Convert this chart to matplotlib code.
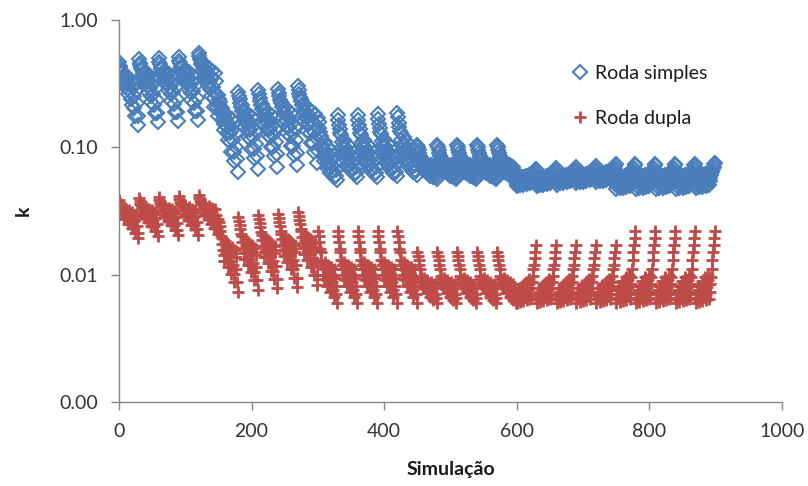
import numpy as np
import matplotlib.pyplot as plt
from matplotlib.ticker import FormatStrFormatter, NullLocator

plt.rcParams['font.family'] = ['Lato', 'DejaVu Sans']

# 900 simulations = 6 blocks of 150, each block = 5 repeats of a 30-run pattern
# each 30-run pattern read off the chart as six short sweeps of 5 runs
simples_b1 = [0.50, 0.47, 0.45, 0.43, 0.41,
              0.42, 0.39, 0.36, 0.34, 0.32,
              0.40, 0.37, 0.34, 0.31, 0.28,
              0.38, 0.34, 0.30, 0.26, 0.23,
              0.36, 0.32, 0.27, 0.22, 0.19,
              0.35, 0.30, 0.24, 0.19, 0.16]
simples_b2 = [0.28, 0.26, 0.245, 0.23, 0.215,
              0.22, 0.20, 0.18, 0.165, 0.15,
              0.20, 0.18, 0.16, 0.14, 0.125,
              0.19, 0.165, 0.14, 0.12, 0.10,
              0.18, 0.15, 0.125, 0.10, 0.085,
              0.17, 0.14, 0.11, 0.088, 0.07]
simples_b3 = [0.18, 0.165, 0.15, 0.14, 0.13,
              0.125, 0.11, 0.10, 0.09, 0.082,
              0.115, 0.10, 0.09, 0.08, 0.072,
              0.105, 0.092, 0.082, 0.073, 0.066,
              0.098, 0.086, 0.076, 0.068, 0.062,
              0.09, 0.08, 0.07, 0.063, 0.058]
simples_b4 = [0.105, 0.10, 0.095, 0.09, 0.085,
              0.082, 0.078, 0.074, 0.07, 0.066,
              0.078, 0.074, 0.07, 0.066, 0.063,
              0.074, 0.07, 0.066, 0.063, 0.06,
              0.072, 0.068, 0.064, 0.061, 0.058,
              0.07, 0.066, 0.062, 0.059, 0.056]
simples_b5 = [0.051, 0.053, 0.055, 0.057, 0.059,
              0.052, 0.054, 0.056, 0.058, 0.06,
              0.052, 0.054, 0.056, 0.058, 0.061,
              0.053, 0.055, 0.057, 0.059, 0.062,
              0.054, 0.056, 0.058, 0.06, 0.063,
              0.062, 0.064, 0.066, 0.068, 0.07]
simples_b6 = [0.047, 0.05, 0.053, 0.056, 0.058,
              0.048, 0.051, 0.054, 0.057, 0.06,
              0.048, 0.051, 0.054, 0.057, 0.061,
              0.049, 0.052, 0.055, 0.058, 0.062,
              0.05, 0.053, 0.056, 0.059, 0.063,
              0.064, 0.066, 0.069, 0.072, 0.074]

dupla_b1 = [0.040, 0.038, 0.036, 0.035, 0.034,
            0.035, 0.033, 0.031, 0.029, 0.028,
            0.034, 0.032, 0.030, 0.028, 0.026,
            0.033, 0.031, 0.028, 0.026, 0.024,
            0.032, 0.030, 0.027, 0.024, 0.022,
            0.031, 0.028, 0.025, 0.022, 0.020]
dupla_b2 = [0.030, 0.028, 0.026, 0.024, 0.022,
            0.021, 0.019, 0.017, 0.0155, 0.014,
            0.020, 0.018, 0.016, 0.014, 0.0125,
            0.019, 0.017, 0.015, 0.0125, 0.011,
            0.018, 0.016, 0.013, 0.011, 0.0095,
            0.017, 0.015, 0.012, 0.0095, 0.008]
dupla_b3 = [0.022, 0.020, 0.018, 0.016, 0.015,
            0.013, 0.012, 0.011, 0.010, 0.0092,
            0.0125, 0.0112, 0.010, 0.009, 0.0082,
            0.012, 0.0105, 0.0093, 0.0082, 0.0073,
            0.0115, 0.010, 0.0087, 0.0076, 0.0067,
            0.011, 0.0095, 0.0082, 0.007, 0.006]
dupla_b4 = [0.015, 0.014, 0.013, 0.012, 0.011,
            0.0098, 0.0093, 0.0088, 0.0083, 0.0078,
            0.0094, 0.0088, 0.0082, 0.0077, 0.0072,
            0.009, 0.0084, 0.0078, 0.0072, 0.0067,
            0.0087, 0.008, 0.0074, 0.0068, 0.0063,
            0.0085, 0.0078, 0.0071, 0.0065, 0.006]
dupla_b5 = [0.006, 0.0064, 0.0068, 0.0073, 0.0078,
            0.0061, 0.0066, 0.0071, 0.0077, 0.0083,
            0.0062, 0.0067, 0.0073, 0.008, 0.0088,
            0.0063, 0.0069, 0.0076, 0.0084, 0.0093,
            0.0064, 0.0071, 0.0079, 0.0088, 0.0098,
            0.011, 0.012, 0.0135, 0.015, 0.017]
dupla_b6 = [0.006, 0.0065, 0.007, 0.0076, 0.0082,
            0.0061, 0.0067, 0.0074, 0.0081, 0.0089,
            0.0062, 0.0069, 0.0077, 0.0086, 0.0096,
            0.0063, 0.0071, 0.008, 0.009, 0.010,
            0.0064, 0.0073, 0.0084, 0.0096, 0.011,
            0.013, 0.015, 0.017, 0.0195, 0.022]

# level of each of the 5 repeats inside a block
simples_drift = [[0.93, 0.98, 1.0, 1.02, 1.1], [0.92, 0.97, 1.0, 1.03, 1.08], [0.95, 1.0, 1.0, 1.02, 1.04],
                 [1.0, 1.0, 1.0, 1.0, 1.0], [0.97, 0.98, 1.0, 1.02, 1.05], [1.0, 1.0, 1.0, 1.0, 1.02]]
dupla_drift = [[0.97, 1.0, 1.02, 1.03, 1.05], [0.92, 0.95, 0.98, 1.0, 1.04], [1.0, 1.0, 1.0, 1.0, 1.0],
               [1.0, 1.0, 1.0, 1.0, 1.0], [1.0, 1.0, 1.0, 1.0, 1.0], [1.0, 1.0, 1.0, 1.0, 1.0]]


def build(blocks, drift):
    vals = []
    for prof, dr in zip(blocks, drift):
        for f in dr:
            vals.extend(np.array(prof) * f)
    return np.array(vals)


k_simples = build([simples_b1, simples_b2, simples_b3, simples_b4, simples_b5, simples_b6], simples_drift)
k_dupla = build([dupla_b1, dupla_b2, dupla_b3, dupla_b4, dupla_b5, dupla_b6], dupla_drift)
sim = np.arange(len(k_simples))

fig = plt.figure(figsize=(8.08, 4.86), dpi=100)
ax = fig.add_axes([119 / 808, 1 - 402 / 486, 663 / 808, 382 / 486])

ax.plot(sim, k_simples, ls='none', marker='D', ms=7.5, mfc='none', mec='#4A7EBB', mew=1.5,
        label='Roda simples')
ax.plot(sim, k_dupla, ls='none', marker='+', ms=8.5, mec='#BE4B48', mew=2,
        label='Roda dupla')

ax.set_yscale('log')
ax.set_ylim(0.001, 1)
ax.set_yticks([0.001, 0.01, 0.1, 1])
ax.yaxis.set_major_formatter(FormatStrFormatter('%.2f'))
ax.yaxis.set_minor_locator(NullLocator())
ax.set_xlim(0, 1000)
ax.set_xticks(range(0, 1001, 200))

for s in ['top', 'right']:
    ax.spines[s].set_visible(False)
for s in ['left', 'bottom']:
    ax.spines[s].set_color('#868686')
    ax.spines[s].set_linewidth(1)
ax.tick_params(direction='out', length=6, width=1, color='#868686',
               labelcolor='#333333', labelsize=14, pad=9)

ax.set_xlabel('Simulação', fontweight='bold', fontsize=14, color='#1a1a1a', labelpad=15)
ax.set_ylabel('k', fontweight='bold', fontsize=14, color='#1a1a1a', labelpad=20)

ax.legend(loc='upper left', bbox_to_anchor=(570 / 808, 1 - 65 / 486),
          bbox_transform=fig.transFigure, frameon=False, borderpad=0, borderaxespad=0,
          handlelength=1.0, handletextpad=0.3, labelspacing=1.45, fontsize=14, numpoints=1,
          labelcolor='#1a1a1a')

fig.savefig('out.png', dpi=100)
